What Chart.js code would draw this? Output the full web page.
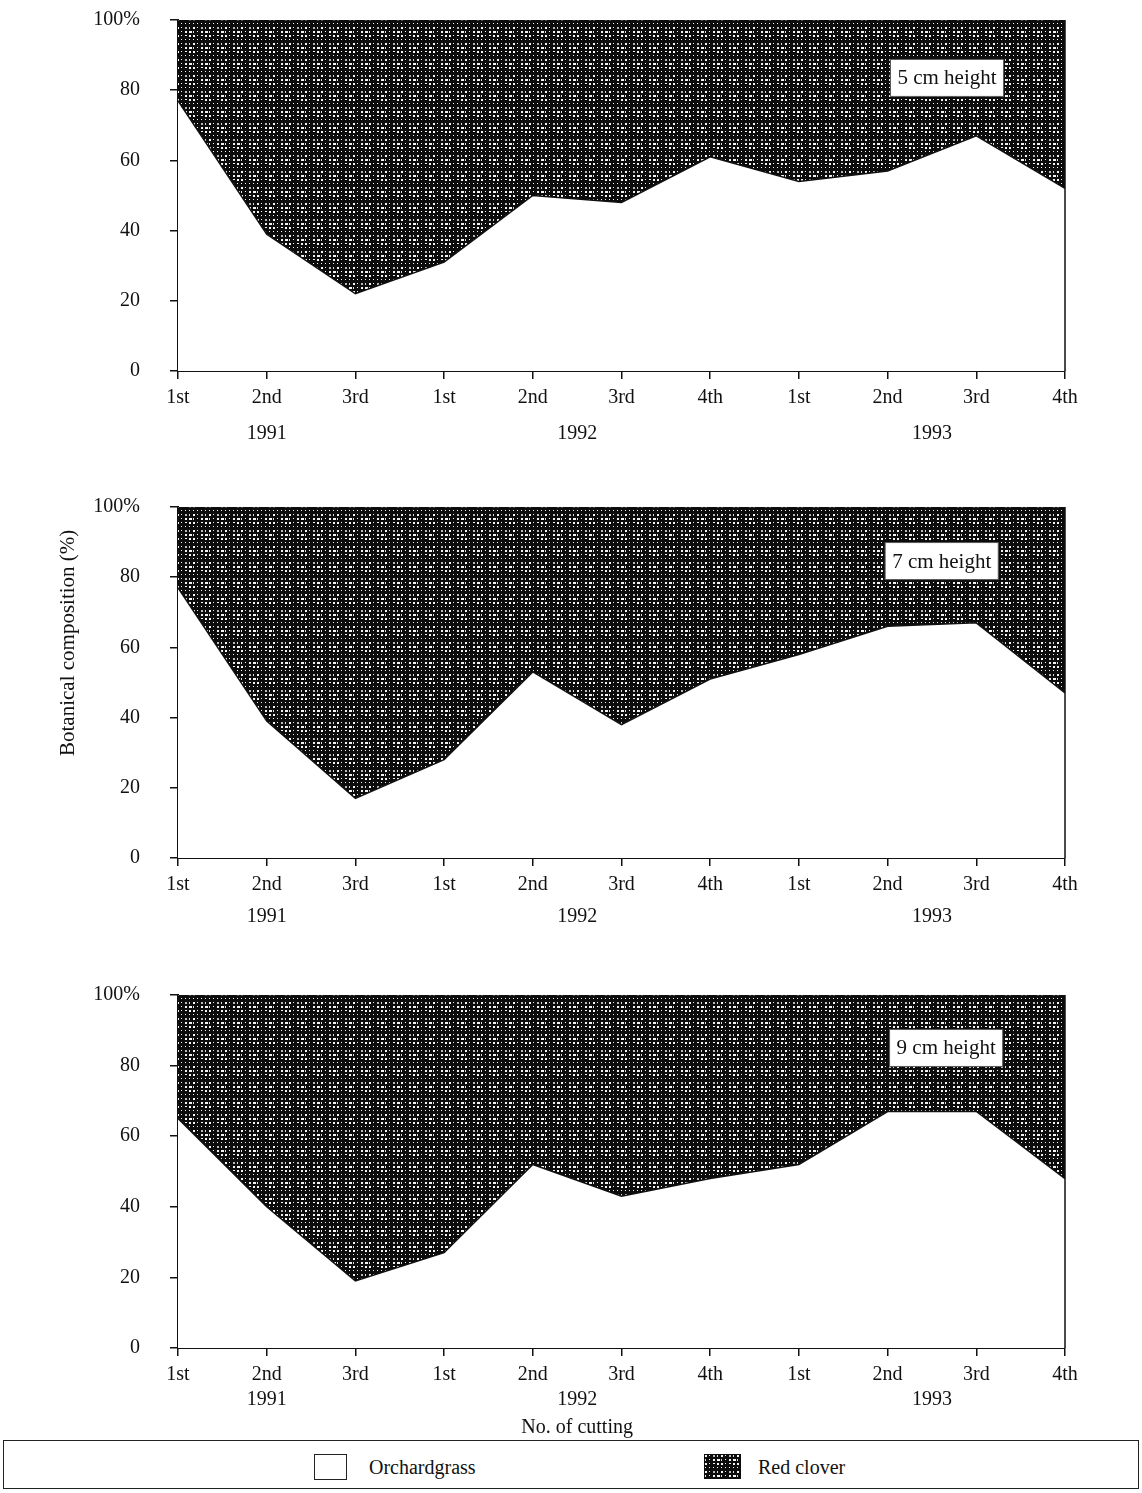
<!DOCTYPE html>
<html>
<head>
<meta charset="utf-8">
<script src="https://cdn.jsdelivr.net/npm/chart.js@4.4.1/dist/chart.umd.min.js"></script>
<style>
  html, body { margin: 0; padding: 0; background: #fff; }
  body { width: 1142px; height: 1493px; position: relative; overflow: hidden; font-family: "Liberation Serif", "Times New Roman", serif; }
  canvas.c { position: absolute; left: 0; }
  #legend { position: absolute; left: 3px; top: 1440px; width: 1136px; height: 49px; border: 1.5px solid #222; box-sizing: border-box; }
  .sw { position: absolute; box-sizing: border-box; }
  .lt { position: absolute; font-size: 20px; color: #111; line-height: 20px; }
</style>
</head>
<body>
<canvas class="c" id="c1" width="1142" height="482" style="top:-22px"></canvas>
<canvas class="c" id="c2" width="1142" height="475" style="top:465px"></canvas>
<canvas class="c" id="c3" width="1142" height="487" style="top:953px"></canvas>
<div id="legend">
  <div class="sw" id="swO" style="left:310px;top:13px;width:33px;height:26px;border:1.5px solid #222;background:#fff;"></div>
  <div class="lt" style="left:365px;top:16px;">Orchardgrass</div>
  <div class="sw" id="swR" style="left:700px;top:13px;width:37px;height:25px;"></div>
  <div class="lt" style="left:754px;top:16px;">Red clover</div>
</div>
<script>
// ---- data ----
const cuttings = ['1st','2nd','3rd','1st','2nd','3rd','4th','1st','2nd','3rd','4th'];
const years = ['1991','1992','1993'];
const yearAt = [1, 4.5, 8.5];           // category position under which each year is written
const yTicks = [0, 20, 40, 60, 80, 100];

const orchard5 = [77, 39, 22, 31, 50, 48, 61, 54, 57, 67, 52];
const clover5  = [23, 61, 78, 69, 50, 52, 39, 46, 43, 33, 48];
const orchard7 = [77, 39, 17, 28, 53, 38, 51, 58, 66, 67, 47];
const clover7  = [23, 61, 83, 72, 47, 62, 49, 42, 34, 33, 53];
const orchard9 = [65, 40, 19, 27, 52, 43, 48, 52, 67, 67, 48];
const clover9  = [35, 60, 81, 73, 48, 57, 52, 48, 33, 33, 52];

const seriesNames = ['Orchardgrass', 'Red clover'];
const panelLabels = ['5 cm height', '7 cm height', '9 cm height'];

// ---- texture for red clover ----
function makeTile() {
  const t = document.createElement('canvas');
  t.width = 16; t.height = 16;
  const g = t.getContext('2d');
  g.fillStyle = '#0c0c0c';
  g.fillRect(0, 0, 16, 16);
  for (let i = 0; i < 4; i++) {
    for (let j = 0; j < 4; j++) {
      const k = (i * 7 + j * 5 + i * j * 3) % 8;
      let w = 2, h = 2, c = '#f4f4f4';
      if (k === 3) { w = 3; }
      else if (k === 4) { h = 1; }
      else if (k === 5) { w = 1; c = '#dddddd'; }
      else if (k === 6) { c = '#b8b8b8'; }
      else if (k === 7) { w = 1; h = 1; }
      g.fillStyle = c;
      g.fillRect(i * 4 + 1, j * 4 + 1, w, h);
    }
  }
  return t;
}
const tile = makeTile();
document.getElementById('swR').style.backgroundImage = 'url(' + tile.toDataURL() + ')';

const FONT = '"Liberation Serif", "Times New Roman", serif';
Chart.defaults.font.family = FONT;
Chart.defaults.color = '#111';

const extrasPlugin = {
  id: 'extras',
  afterDraw(chart, args, o) {
    const ctx = chart.ctx;
    const xs = chart.scales.x, ys = chart.scales.y;
    const a = chart.chartArea;
    ctx.save();
    // right frame line
    ctx.strokeStyle = '#111';
    ctx.lineWidth = 1.5;
    ctx.beginPath();
    ctx.moveTo(a.right, a.top);
    ctx.lineTo(a.right, a.bottom);
    ctx.stroke();
    // panel label box
    const bx = xs.getPixelForValue(o.boxX), by = ys.getPixelForValue(o.boxY);
    ctx.font = '21px ' + FONT;
    const tw = ctx.measureText(o.box).width;
    const w = tw + 14, h = 37;
    ctx.fillStyle = '#fff';
    ctx.fillRect(bx - w / 2, by - h / 2, w, h);
    ctx.strokeStyle = '#555';
    ctx.lineWidth = 1;
    ctx.strokeRect(bx - w / 2, by - h / 2, w, h);
    ctx.fillStyle = '#111';
    ctx.textAlign = 'center';
    ctx.textBaseline = 'middle';
    ctx.fillText(o.box, bx, by + 1);
    // years
    ctx.font = '20px ' + FONT;
    years.forEach((y, i) => {
      ctx.fillText(y, xs.getPixelForValue(yearAt[i]), a.bottom + o.yearOff);
    });
    if (o.xTitle) {
      ctx.fillText(o.xTitle, xs.getPixelForValue(4.5), a.bottom + o.xTitleOff);
    }
    if (o.yTitle) {
      ctx.save();
      ctx.translate(68, ys.getPixelForValue(o.yTitleAt));
      ctx.rotate(-Math.PI / 2);
      ctx.font = '21px ' + FONT;
      ctx.fillText(o.yTitle, 0, 0);
      ctx.restore();
    }
    ctx.restore();
  }
};

function makeChart(id, orchard, clover, xHeight, extras) {
  const cv = document.getElementById(id);
  const ctx = cv.getContext('2d');
  const pattern = ctx.createPattern(tile, 'repeat');
  return new Chart(ctx, {
    type: 'line',
    data: {
      labels: cuttings,
      datasets: [
        { label: seriesNames[0], data: orchard, fill: 'origin', backgroundColor: '#ffffff',
          borderColor: '#111', borderWidth: 1.5, pointRadius: 0, tension: 0 },
        { label: seriesNames[1], data: clover, fill: '-1', backgroundColor: pattern,
          borderColor: '#111', borderWidth: 1.5, pointRadius: 0, tension: 0 }
      ]
    },
    options: {
      responsive: false,
      animation: false,
      devicePixelRatio: 1,
      layout: { padding: { top: 0, right: 77, left: 0, bottom: 0 } },
      plugins: { legend: { display: false }, tooltip: { enabled: false }, extras: extras },
      scales: {
        x: {
          type: 'category',
          offset: false,
          grid: { drawOnChartArea: false, drawTicks: true, tickLength: 8, color: '#111', lineWidth: 1.5 },
          border: { display: true, color: '#111', width: 2 },
          ticks: { autoSkip: false, maxRotation: 0, minRotation: 0, padding: 7,
                   font: { size: 20, family: FONT }, color: '#111' },
          afterFit(s) { s.height = xHeight; }
        },
        y: {
          stacked: true,
          min: 0, max: 100,
          afterBuildTicks(s) { s.ticks = yTicks.map(v => ({ value: v })); },
          grid: { drawOnChartArea: false, drawTicks: true, tickLength: 8, color: '#111', lineWidth: 1.5 },
          border: { display: true, color: '#111', width: 2 },
          ticks: { padding: 30, font: { size: 20, family: FONT }, color: '#111',
                   callback: v => (v === 100 ? '100%' : String(v)) },
          afterFit(s) { s.width = 178; }
        }
      }
    },
    plugins: [extrasPlugin]
  });
}

makeChart('c1', orchard5, clover5, 89,
  { box: panelLabels[0], boxX: 8.67, boxY: 83.5, yearOff: 63 });
makeChart('c2', orchard7, clover7, 82,
  { box: panelLabels[1], boxX: 8.61, boxY: 84.6, yearOff: 59,
    yTitle: 'Botanical composition (%)', yTitleAt: 61.3 });
makeChart('c3', orchard9, clover9, 92,
  { box: panelLabels[2], boxX: 8.66, boxY: 85, yearOff: 52,
    xTitle: 'No. of cutting', xTitleOff: 80 });
</script>
</body>
</html>
